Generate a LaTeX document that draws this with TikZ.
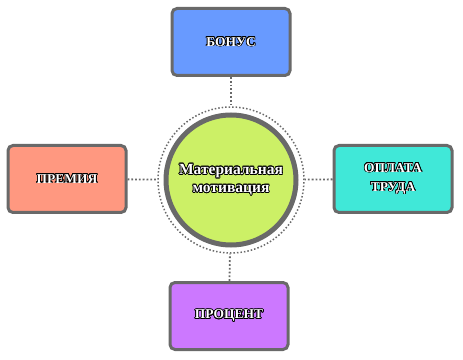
\documentclass[tikz,border=0pt]{standalone}
\usepackage{fontspec}
\setmainfont{Liberation Serif}
\usepackage{xcolor}
\usepackage{contour}
\contourlength{0.7pt}
\usetikzlibrary{positioning}
\definecolor{rand}{RGB}{105,105,105}
\definecolor{blauw}{RGB}{104,154,255}
\definecolor{zalm}{RGB}{255,152,128}
\definecolor{turk}{RGB}{64,232,216}
\definecolor{paars}{RGB}{204,120,255}
\definecolor{limoen}{RGB}{204,240,102}
\newcommand{\lbl}[1]{\contour{black}{\textcolor{white}{#1}}}

\begin{document}
\begin{tikzpicture}[x=1pt, y=1pt,
    every node/.style={font=\fontsize{13.5}{19}\selectfont\bfseries, align=center},
    blok/.style={draw=rand, line width=3pt, rounded corners=5pt,
        minimum width=118pt, minimum height=67pt, inner sep=0pt},
    lijn/.style={draw=rand, dotted, line width=1.8pt}]
            \useasboundingbox (0,0) rectangle (463,359);
            % centrum
            \node[circle, fill=limoen, draw=rand, line width=5pt, minimum size=130pt, inner sep=0pt,
            font=\fontsize{15.5}{18}\selectfont\bfseries]
            (mot) at (231,179) {\lbl{Материальная}\\\lbl{мотивация}};
            \node[circle, lijn, line width=1.5pt, minimum size=146pt, inner sep=0pt] (rond) at (mot) {};
            % blokken
            \node[blok, fill=blauw] (bonus) at (231,317) {\lbl{БОНУС}};
            \node[blok, fill=zalm] (premie) at (67,180) {\lbl{ПРЕМИЯ}};
            \node[blok, fill=turk] (loon) at (393,180) {\lbl{ОПЛАТА}\\\lbl{ТРУДА}};
            \node[blok, fill=paars] (proc) at (229,43) {\lbl{ПРОЦЕНТ}};
            % verbindingen
            \draw[lijn] (bonus) -- (rond);
            \draw[lijn] (premie) -- (rond);
            \draw[lijn] (loon) -- (rond);
            \draw[lijn] (proc) -- (rond);
        \end{tikzpicture}
\end{document}
